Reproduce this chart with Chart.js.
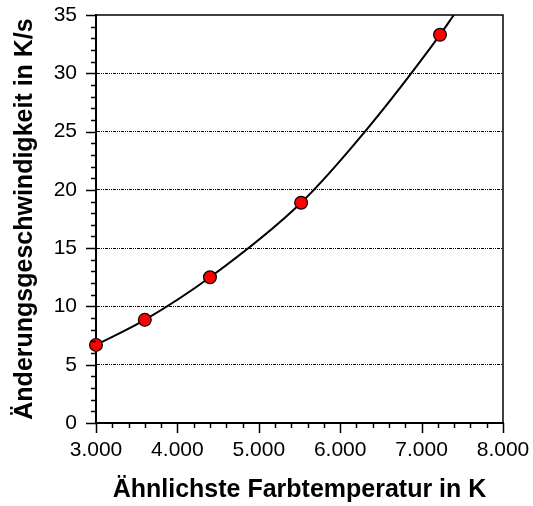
<!DOCTYPE html>
<html>
<head>
<meta charset="utf-8">
<script src="https://cdn.jsdelivr.net/npm/chart.js@4/dist/chart.umd.min.js"></script>
<style>
  html, body { margin: 0; padding: 0; background: #fff; }
  canvas { display: block; }
</style>
</head>
<body>
<canvas id="chart" width="533" height="506"></canvas>
<script>
// Measured points (red markers)
const pointTemps = [3000, 3600, 4400, 5520, 7226];
const pointRates = [6.7, 8.85, 12.5, 18.9, 33.3];

// Fit curve (through the points, plus where it crosses 25 and the top)
const curveTemps = [3000, 3600, 4400, 5520, 6304, 7226, 7396];
const curveRates = [6.7, 8.85, 12.5, 18.9, 25, 33.3, 35];

const X_MIN = 3000, X_MAX = 8000, X_STEP = 1000, X_MINOR = 200;
const Y_MIN = 0, Y_MAX = 35, Y_STEP = 5, Y_MINOR = 1;

const FONT = "'Liberation Sans', Arial, sans-serif";
Chart.defaults.font.family = FONT;
Chart.defaults.color = "#000";

const toXY = (xs, ys) => xs.map((x, i) => ({ x, y: ys[i] }));

function formatThousands(v) {
  return String(v).replace(/\B(?=(\d{3})+(?!\d))/g, ".");
}

// tick marks (major + minor) and the top/right frame
const frameAndTicks = {
  id: "frameAndTicks",
  afterDraw(chart) {
    const { ctx, chartArea: a, scales: { x, y } } = chart;
    ctx.save();
    ctx.strokeStyle = "#000";
    ctx.lineWidth = 1.5;
    ctx.beginPath();
    ctx.moveTo(a.left, a.top);
    ctx.lineTo(a.right, a.top);
    ctx.lineTo(a.right, a.bottom);
    ctx.stroke();

    ctx.beginPath();
    for (let v = Y_MIN; v <= Y_MAX; v += Y_MINOR) {
      const py = Math.round(y.getPixelForValue(v)) + 0.5;
      const len = v % Y_STEP === 0 ? 10 : 5;
      ctx.moveTo(a.left - len, py);
      ctx.lineTo(a.left, py);
    }
    for (let v = X_MIN; v <= X_MAX; v += X_MINOR) {
      const px = Math.round(x.getPixelForValue(v)) + 0.5;
      const len = (v - X_MIN) % X_STEP === 0 ? 10 : 5;
      ctx.moveTo(px, a.bottom);
      ctx.lineTo(px, a.bottom + len);
    }
    ctx.stroke();
    ctx.restore();
  },
};

new Chart(document.getElementById("chart"), {
  type: "line",
  data: {
    datasets: [
      {
        label: "Messwerte",
        data: toXY(pointTemps, pointRates),
        showLine: false,
        pointRadius: 6.4,
        pointBackgroundColor: "#ff0000",
        pointBorderColor: "#000",
        pointBorderWidth: 1.2,
        clip: false,
        order: 0,
      },
      {
        label: "Fit",
        data: toXY(curveTemps, curveRates),
        borderColor: "#000",
        borderWidth: 2,
        pointRadius: 0,
        cubicInterpolationMode: "monotone",
        fill: false,
        order: 1,
      },
    ],
  },
  options: {
    responsive: false,
    animation: false,
    layout: { padding: { top: 15, right: 30, left: 0, bottom: 0 } },
    plugins: { legend: { display: false }, tooltip: { enabled: false } },
    scales: {
      x: {
        type: "linear",
        min: X_MIN,
        max: X_MAX,
        afterFit(scale) {
          scale.height = 83;
          scale.paddingLeft = 0;
          scale.paddingRight = 0;
        },
        ticks: {
          stepSize: X_STEP,
          padding: 15,
          maxRotation: 0,
          font: { size: 21 },
          color: "#000",
          callback: (v) => formatThousands(v),
        },
        grid: { display: false, drawTicks: false },
        border: { display: true, color: "#000", width: 2 },
        title: {
          display: true,
          text: "Ähnlichste Farbtemperatur in K",
          font: { size: 25, weight: "bold" },
          color: "#000",
          padding: { top: 0, bottom: 1 },
        },
      },
      y: {
        type: "linear",
        min: Y_MIN,
        max: Y_MAX,
        afterFit(scale) {
          scale.width = 96;
          scale.paddingTop = 0;
          scale.paddingBottom = 0;
        },
        ticks: {
          stepSize: Y_STEP,
          padding: 19,
          font: { size: 21 },
          color: "#000",
        },
        grid: {
          drawTicks: false,
          lineWidth: 1,
          color: (c) => (c.tick && c.tick.value > Y_MIN && c.tick.value < Y_MAX ? "#000" : "rgba(0,0,0,0)"),
        },
        border: { display: true, color: "#000", width: 2, dash: [3, 1, 1, 1, 1, 1] },
        title: {
          display: true,
          text: "Änderungsgeschwindigkeit in K/s",
          font: { size: 25, weight: "bold" },
          color: "#000",
          padding: { top: 10, bottom: 0 },
        },
      },
    },
  },
  plugins: [frameAndTicks],
});
</script>
</body>
</html>
